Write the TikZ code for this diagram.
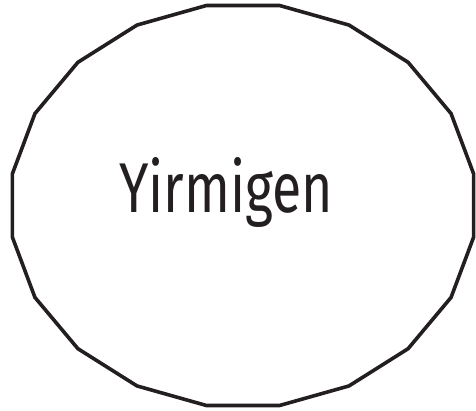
\documentclass[tikz,border=0pt]{standalone}
\usepackage{fontspec}
\setmainfont{Fira Sans}
\definecolor{ink}{HTML}{231F20}
\begin{document}
\begin{tikzpicture}[x=1pt,y=-1pt,
  edge/.style={draw=ink,line width=3.6pt,line join=miter},
  label/.style={text=ink,inner sep=0pt,anchor=base}]
\useasboundingbox (0,0) rectangle (476,411);
\foreach \k in {0,...,19}{
  \coordinate (v\k) at ({243+233.5*cos(9+18*\k)},{205.5-202.5*sin(9+18*\k)});
}
\draw[edge] (v0) \foreach \k in {1,...,19}{ -- (v\k) } -- cycle;
\node[label] (t) at (226,213) {\resizebox{214pt}{55pt}{\fontsize{60}{72}\selectfont Yirmigen}};
\end{tikzpicture}
\end{document}
